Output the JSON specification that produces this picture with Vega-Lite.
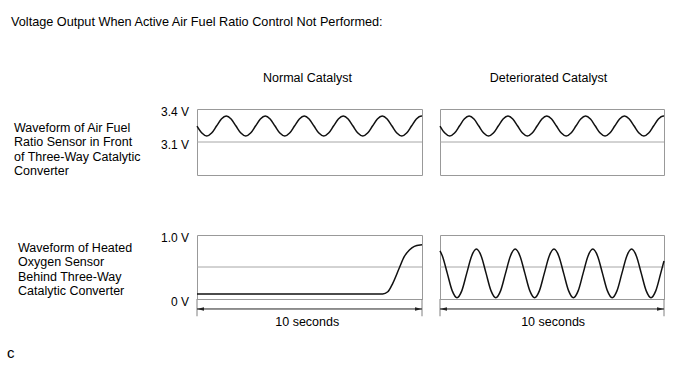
{
  "$schema": "https://vega.github.io/schema/vega-lite/v6.json",
  "padding": {"left": 6, "top": 16, "right": 0, "bottom": 0},
  "background": "white",
  "title": {"text": "Voltage Output When Active Air Fuel Ratio Control Not Performed:", "anchor": "start", "frame": "group", "dx": -186, "offset": 32, "baseline": "alphabetic", "fontSize": 12.7},
  "bounds": "flush",
  "columns": 2,
  "spacing": {"row": 60, "column": 18},
  "datasets": {
    "afr": [
      {"t": 0, "v": 3.245}, {"t": 0.217, "v": 3.181}, {"t": 0.433, "v": 3.154}, {"t": 0.65, "v": 3.181},
      {"t": 0.867, "v": 3.245}, {"t": 1.083, "v": 3.309}, {"t": 1.3, "v": 3.336}, {"t": 1.517, "v": 3.309},
      {"t": 1.733, "v": 3.245}, {"t": 1.95, "v": 3.181}, {"t": 2.167, "v": 3.154}, {"t": 2.383, "v": 3.181},
      {"t": 2.6, "v": 3.245}, {"t": 2.817, "v": 3.309}, {"t": 3.033, "v": 3.336}, {"t": 3.25, "v": 3.309},
      {"t": 3.467, "v": 3.245}, {"t": 3.683, "v": 3.181}, {"t": 3.9, "v": 3.154}, {"t": 4.117, "v": 3.181},
      {"t": 4.333, "v": 3.245}, {"t": 4.55, "v": 3.309}, {"t": 4.767, "v": 3.336}, {"t": 4.983, "v": 3.309},
      {"t": 5.2, "v": 3.245}, {"t": 5.417, "v": 3.181}, {"t": 5.633, "v": 3.154}, {"t": 5.85, "v": 3.181},
      {"t": 6.067, "v": 3.245}, {"t": 6.283, "v": 3.309}, {"t": 6.5, "v": 3.336}, {"t": 6.717, "v": 3.309},
      {"t": 6.933, "v": 3.245}, {"t": 7.15, "v": 3.181}, {"t": 7.367, "v": 3.154}, {"t": 7.583, "v": 3.181},
      {"t": 7.8, "v": 3.245}, {"t": 8.017, "v": 3.309}, {"t": 8.233, "v": 3.336}, {"t": 8.45, "v": 3.309},
      {"t": 8.667, "v": 3.245}, {"t": 8.883, "v": 3.181}, {"t": 9.1, "v": 3.154}, {"t": 9.317, "v": 3.181},
      {"t": 9.533, "v": 3.245}, {"t": 9.75, "v": 3.309}, {"t": 9.967, "v": 3.336}, {"t": 10, "v": 3.335}
    ],
    "heatedNormal": [
      {"t": 0, "v": 0.078}, {"t": 8.25, "v": 0.078}, {"t": 8.48, "v": 0.114}, {"t": 8.7, "v": 0.245},
      {"t": 8.99, "v": 0.484}, {"t": 9.21, "v": 0.661}, {"t": 9.44, "v": 0.766}, {"t": 9.66, "v": 0.823},
      {"t": 9.92, "v": 0.844}, {"t": 10, "v": 0.846}
    ],
    "heatedDet": [
      {"t": 0, "v": 0.752}, {"t": 0.11, "v": 0.669}, {"t": 0.326, "v": 0.4}, {"t": 0.543, "v": 0.131},
      {"t": 0.759, "v": 0.02}, {"t": 0.976, "v": 0.131}, {"t": 1.192, "v": 0.4}, {"t": 1.409, "v": 0.669},
      {"t": 1.625, "v": 0.78}, {"t": 1.842, "v": 0.669}, {"t": 2.058, "v": 0.4}, {"t": 2.275, "v": 0.131},
      {"t": 2.491, "v": 0.02}, {"t": 2.708, "v": 0.131}, {"t": 2.924, "v": 0.4}, {"t": 3.141, "v": 0.669},
      {"t": 3.357, "v": 0.78}, {"t": 3.574, "v": 0.669}, {"t": 3.79, "v": 0.4}, {"t": 4.007, "v": 0.131},
      {"t": 4.223, "v": 0.02}, {"t": 4.44, "v": 0.131}, {"t": 4.656, "v": 0.4}, {"t": 4.873, "v": 0.669},
      {"t": 5.089, "v": 0.78}, {"t": 5.306, "v": 0.669}, {"t": 5.522, "v": 0.4}, {"t": 5.739, "v": 0.131},
      {"t": 5.955, "v": 0.02}, {"t": 6.172, "v": 0.131}, {"t": 6.388, "v": 0.4}, {"t": 6.605, "v": 0.669},
      {"t": 6.821, "v": 0.78}, {"t": 7.038, "v": 0.669}, {"t": 7.254, "v": 0.4}, {"t": 7.471, "v": 0.131},
      {"t": 7.687, "v": 0.02}, {"t": 7.904, "v": 0.131}, {"t": 8.12, "v": 0.4}, {"t": 8.337, "v": 0.669},
      {"t": 8.553, "v": 0.78}, {"t": 8.77, "v": 0.669}, {"t": 8.986, "v": 0.4}, {"t": 9.203, "v": 0.131},
      {"t": 9.419, "v": 0.02}, {"t": 9.636, "v": 0.131}, {"t": 9.852, "v": 0.4}, {"t": 10, "v": 0.594}
    ]
  },
  "concat": [
    {
      "width": 225, "height": 66,
      "title": {"text": "Normal Catalyst", "offset": 12, "dx": -2, "baseline": "alphabetic"},
      "layer": [
        {"data": {"values": [{"k": 1}]}, "mark": {"type": "rule", "color": "#a6a6a6"}, "encoding": {"y": {"datum": 3.1, "type": "quantitative", "axis": null}}},
        {"data": {"values": [{"k": 1}]}, "mark": {"type": "text", "text": "3.4 V", "align": "right", "baseline": "middle", "xOffset": -8, "yOffset": 3, "fontSize": 12}, "encoding": {"x": {"datum": 0, "type": "quantitative", "axis": null}, "y": {"datum": 3.4, "type": "quantitative", "axis": null}}},
        {"data": {"values": [{"k": 1}]}, "mark": {"type": "text", "text": "3.1 V", "align": "right", "baseline": "middle", "xOffset": -8, "yOffset": 3, "fontSize": 12}, "encoding": {"x": {"datum": 0, "type": "quantitative", "axis": null}, "y": {"datum": 3.1, "type": "quantitative", "axis": null}}},
        {"data": {"values": [{"k": 1}]}, "mark": {"type": "text", "text": ["Waveform of Air Fuel", "Ratio Sensor in Front", "of Three-Way Catalytic", "Converter"], "lineHeight": 14.5, "align": "left", "baseline": "alphabetic", "xOffset": -183, "yOffset": 22.8}, "encoding": {"x": {"datum": 0, "type": "quantitative", "axis": null}, "y": {"datum": 3.4, "type": "quantitative", "axis": null}}},
        {"data": {"name": "afr"}, "mark": {"type": "line", "interpolate": "monotone", "color": "#111111", "strokeWidth": 1.5},
          "encoding": {
            "x": {"field": "t", "type": "quantitative", "scale": {"domain": [0, 10], "nice": false}, "axis": null},
            "y": {"field": "v", "type": "quantitative", "scale": {"domain": [2.8, 3.4], "nice": false, "zero": false}, "axis": null}
          }}
      ]
    },
    {
      "width": 224, "height": 66,
      "title": {"text": "Deteriorated Catalyst", "offset": 15, "dx": -3.5, "baseline": "alphabetic"},
      "layer": [
        {"data": {"values": [{"k": 1}]}, "mark": {"type": "rule", "color": "#a6a6a6"}, "encoding": {"y": {"datum": 3.1, "type": "quantitative", "axis": null}}},
        {"data": {"name": "afr"}, "mark": {"type": "line", "interpolate": "monotone", "color": "#111111", "strokeWidth": 1.5},
          "encoding": {
            "x": {"field": "t", "type": "quantitative", "scale": {"domain": [0, 10], "nice": false}, "axis": null},
            "y": {"field": "v", "type": "quantitative", "scale": {"domain": [2.8, 3.4], "nice": false, "zero": false}, "axis": null}
          }}
      ]
    },
    {
      "width": 225, "height": 64,
      "title": {"text": "c", "orient": "bottom", "anchor": "start", "frame": "group", "dx": -190, "offset": 29, "baseline": "alphabetic", "fontSize": 15},
      "layer": [
        {"data": {"values": [{"k": 1}]}, "mark": {"type": "rule", "color": "#a6a6a6"}, "encoding": {"y": {"datum": 0.5, "type": "quantitative", "axis": null}}},
        {"data": {"values": [{"k": 1}]}, "mark": {"type": "rule", "color": "#808080"}, "encoding": {"x": {"datum": 0, "type": "quantitative", "axis": null}, "y": {"datum": 0, "type": "quantitative", "axis": null}, "y2": {"datum": -0.27}}},
        {"data": {"values": [{"k": 1}]}, "mark": {"type": "rule", "color": "#808080"}, "encoding": {"x": {"datum": 10, "type": "quantitative", "axis": null}, "y": {"datum": 0, "type": "quantitative", "axis": null}, "y2": {"datum": -0.27}}},
        {"data": {"values": [{"k": 1}]}, "mark": {"type": "rule", "color": "#222222"}, "encoding": {"x": {"datum": 0, "type": "quantitative", "axis": null}, "x2": {"datum": 10}, "y": {"datum": -0.156, "type": "quantitative", "axis": null}}},
        {"data": {"values": [{"k": 1}]}, "mark": {"type": "point", "shape": "M-1,0L1,-0.5L1,0.5Z", "size": 49, "filled": true, "opacity": 1, "color": "#222222", "xOffset": 3.5}, "encoding": {"x": {"datum": 0, "type": "quantitative", "axis": null}, "y": {"datum": -0.156, "type": "quantitative", "axis": null}}},
        {"data": {"values": [{"k": 1}]}, "mark": {"type": "point", "shape": "M1,0L-1,-0.5L-1,0.5Z", "size": 49, "filled": true, "opacity": 1, "color": "#222222", "xOffset": -3.5}, "encoding": {"x": {"datum": 10, "type": "quantitative", "axis": null}, "y": {"datum": -0.156, "type": "quantitative", "axis": null}}},
        {"data": {"values": [{"k": 1}]}, "mark": {"type": "text", "text": "10 seconds", "baseline": "middle", "align": "center"}, "encoding": {"x": {"datum": 4.9, "type": "quantitative", "axis": null}, "y": {"datum": -0.36, "type": "quantitative", "axis": null}}},
        {"data": {"values": [{"k": 1}]}, "mark": {"type": "text", "text": "1.0 V", "align": "right", "baseline": "middle", "xOffset": -8, "yOffset": 3, "fontSize": 12}, "encoding": {"x": {"datum": 0, "type": "quantitative", "axis": null}, "y": {"datum": 1, "type": "quantitative", "axis": null}}},
        {"data": {"values": [{"k": 1}]}, "mark": {"type": "text", "text": "0 V", "align": "right", "baseline": "middle", "xOffset": -8, "yOffset": 3, "fontSize": 12}, "encoding": {"x": {"datum": 0, "type": "quantitative", "axis": null}, "y": {"datum": 0, "type": "quantitative", "axis": null}}},
        {"data": {"values": [{"k": 1}]}, "mark": {"type": "text", "text": ["Waveform of Heated", "Oxygen Sensor", "Behind Three-Way", "Catalytic Converter"], "lineHeight": 14.5, "align": "left", "baseline": "alphabetic", "xOffset": -179, "yOffset": 16.8}, "encoding": {"x": {"datum": 0, "type": "quantitative", "axis": null}, "y": {"datum": 1, "type": "quantitative", "axis": null}}},
        {"data": {"name": "heatedNormal"}, "mark": {"type": "line", "interpolate": "monotone", "color": "#111111", "strokeWidth": 1.5},
          "encoding": {
            "x": {"field": "t", "type": "quantitative", "scale": {"domain": [0, 10], "nice": false}, "axis": null},
            "y": {"field": "v", "type": "quantitative", "scale": {"domain": [0, 1], "nice": false}, "axis": null}
          }}
      ]
    },
    {
      "width": 224, "height": 64,
      "layer": [
        {"data": {"values": [{"k": 1}]}, "mark": {"type": "rule", "color": "#a6a6a6"}, "encoding": {"y": {"datum": 0.5, "type": "quantitative", "axis": null}}},
        {"data": {"values": [{"k": 1}]}, "mark": {"type": "rule", "color": "#808080"}, "encoding": {"x": {"datum": 0, "type": "quantitative", "axis": null}, "y": {"datum": 0, "type": "quantitative", "axis": null}, "y2": {"datum": -0.27}}},
        {"data": {"values": [{"k": 1}]}, "mark": {"type": "rule", "color": "#808080"}, "encoding": {"x": {"datum": 10, "type": "quantitative", "axis": null}, "y": {"datum": 0, "type": "quantitative", "axis": null}, "y2": {"datum": -0.27}}},
        {"data": {"values": [{"k": 1}]}, "mark": {"type": "rule", "color": "#222222"}, "encoding": {"x": {"datum": 0, "type": "quantitative", "axis": null}, "x2": {"datum": 10}, "y": {"datum": -0.156, "type": "quantitative", "axis": null}}},
        {"data": {"values": [{"k": 1}]}, "mark": {"type": "point", "shape": "M-1,0L1,-0.5L1,0.5Z", "size": 49, "filled": true, "opacity": 1, "color": "#222222", "xOffset": 3.5}, "encoding": {"x": {"datum": 0, "type": "quantitative", "axis": null}, "y": {"datum": -0.156, "type": "quantitative", "axis": null}}},
        {"data": {"values": [{"k": 1}]}, "mark": {"type": "point", "shape": "M1,0L-1,-0.5L-1,0.5Z", "size": 49, "filled": true, "opacity": 1, "color": "#222222", "xOffset": -3.5}, "encoding": {"x": {"datum": 10, "type": "quantitative", "axis": null}, "y": {"datum": -0.156, "type": "quantitative", "axis": null}}},
        {"data": {"values": [{"k": 1}]}, "mark": {"type": "text", "text": "10 seconds", "baseline": "middle", "align": "center"}, "encoding": {"x": {"datum": 5.05, "type": "quantitative", "axis": null}, "y": {"datum": -0.36, "type": "quantitative", "axis": null}}},
        {"data": {"name": "heatedDet"}, "mark": {"type": "line", "interpolate": "monotone", "color": "#111111", "strokeWidth": 1.5},
          "encoding": {
            "x": {"field": "t", "type": "quantitative", "scale": {"domain": [0, 10], "nice": false}, "axis": null},
            "y": {"field": "v", "type": "quantitative", "scale": {"domain": [0, 1], "nice": false}, "axis": null}
          }}
      ]
    }
  ],
  "config": {
    "font": "Liberation Sans",
    "view": {"stroke": "#999999", "strokeWidth": 1},
    "title": {"fontSize": 12.5, "fontWeight": "normal", "color": "#000000"},
    "text": {"fontSize": 12.5, "color": "#000000"}
  }
}
